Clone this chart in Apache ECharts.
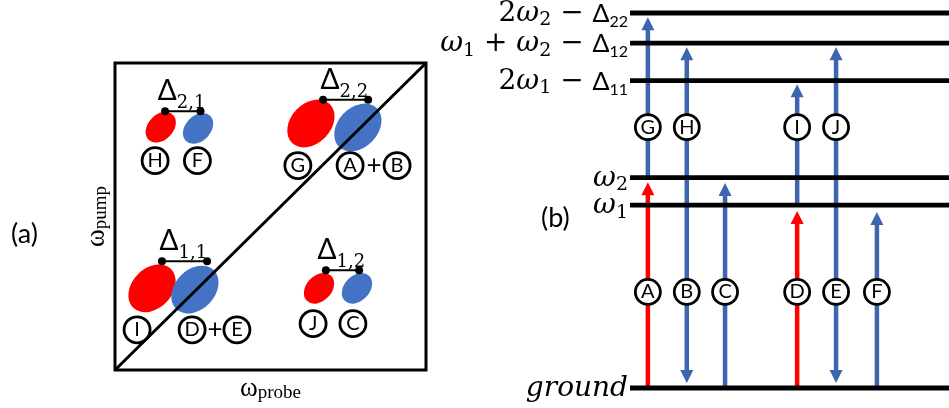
<!DOCTYPE html>
<html><head><meta charset="utf-8">
<script src="https://cdn.jsdelivr.net/npm/echarts@6/dist/echarts.min.js"></script>
<style>html,body{margin:0;padding:0;background:#fff}#c{width:949px;height:408px}</style>
</head><body><div id="c"></div>
<script>
// ---------- Panel (a): 2D spectrum (omega_probe vs omega_pump) ----------
const peakName  = ['H', 'F', 'G', 'A+B', 'I', 'D+E', 'J', 'C'];
const peakProbe = [1.47, 2.67, 6.30, 7.81, 1.19, 2.57, 6.56, 7.78];
const peakPump  = [7.91, 7.87, 8.03, 7.90, 2.66, 2.62, 2.66, 2.66];
const peakSign  = ['esa', 'gsb', 'esa', 'gsb', 'esa', 'gsb', 'esa', 'gsb'];
const peakMajor = [0.56, 0.56, 0.87, 0.87, 0.87, 0.87, 0.56, 0.56];
const peakMinor = [0.41, 0.41, 0.65, 0.65, 0.65, 0.65, 0.41, 0.41];

const splitSub   = ['2,1', '2,2', '1,1', '1,2'];
const splitFrom  = [1.61, 6.69, 1.51, 6.78];
const splitTo    = [2.75, 8.14, 2.96, 7.85];
const splitPump  = [8.43, 8.80, 3.54, 3.25];

const tagAName  = ['H', 'F', 'G', 'A', 'B', 'I', 'D', 'E', 'J', 'C'];
const tagAProbe = [1.29, 2.65, 5.88, 7.56, 9.07, 0.71, 2.48, 3.92, 6.37, 7.65];
const tagAPump  = [6.82, 6.82, 6.66, 6.66, 6.66, 1.31, 1.31, 1.31, 1.51, 1.51];
const plusProbe = [8.33, 3.22];
const plusPump  = [6.66, 1.31];

const diagProbe = [0, 10];
const diagPump  = [0, 10];
const axisNameProbe = ['ω', 'probe'];
const axisNamePump  = ['ω', 'pump'];

// ---------- Panel (b): energy level diagram ----------
const levelName   = ['ground', 'ω₁', 'ω₂', '2ω₁ − Δ₁₁', 'ω₁ + ω₂ − Δ₁₂', '2ω₂ − Δ₂₂'];
const levelEnergy = [0, 1.0, 1.15, 1.68, 1.885, 2.05];

const transName = ['A', 'B', 'C', 'D', 'E', 'F', 'G', 'H', 'I', 'J'];
const transPos  = [0.56, 1.78, 2.98, 5.24, 6.46, 7.74, 0.56, 1.78, 5.24, 6.46];
const transFrom = [0, 1.15, 0, 0, 1.0, 0, 1.15, 1.15, 1.0, 1.0];
const transTo   = [1.125, 0.027, 1.12, 0.967, 0.027, 0.962, 2.027, 1.863, 1.661, 1.863];
const transBeam = ['pump', 'probe', 'probe', 'pump', 'probe', 'probe', 'probe', 'probe', 'probe', 'probe'];
const transTagE = [0.525, 0.525, 0.525, 0.525, 0.525, 0.525, 1.426, 1.426, 1.426, 1.426];

const panelLabels = ['(a)', '(b)'];

// ---------- styling ----------
const RED = '#ff0000', BLUE = '#4472c4', BLUE_ARROW = '#3d66ae';
const TILT = 46 * Math.PI / 180;

const RICH_B = {
  n:  {fontFamily: 'DejaVu Serif', fontSize: 28, fill: '#000', lineHeight: 32},
  w:  {fontFamily: 'DejaVu Serif', fontStyle: 'italic', fontSize: 28, fill: '#000', lineHeight: 32},
  s:  {fontFamily: 'DejaVu Serif', fontSize: 19, fill: '#000', lineHeight: 20, verticalAlign: 'bottom'},
  d:  {fontFamily: 'Lato', fontSize: 25, fill: '#000', lineHeight: 32},
  ds: {fontFamily: 'Lato', fontSize: 16, fill: '#000', lineHeight: 28, verticalAlign: 'bottom'}
};
const SUBS = '₀₁₂₃₄₅₆₇₈₉';
function levelRich(str) {
  let out = '', buf = '', cls = null, last = 'n';
  const push = (c, k) => {
    if (k !== cls) { if (buf) out += '{' + cls + '|' + buf + '}'; buf = ''; cls = k; }
    buf += c; last = k;
  };
  for (const ch of Array.from(str)) {
    const si = SUBS.indexOf(ch);
    if (si >= 0) push(String(si), (last === 'd' || last === 'ds') ? 'ds' : 's');
    else if (ch === 'ω') push(ch, 'w');
    else if (ch === 'Δ') push(ch, 'd');
    else if (/[a-z]/.test(ch)) push(ch, 'w');
    else push(ch, 'n');
  }
  if (buf) out += '{' + cls + '|' + buf + '}';
  return out;
}

const axisRich = {
  w: {fontFamily: 'Liberation Serif', fontSize: 27, color: '#000', lineHeight: 28},
  s: {fontFamily: 'Liberation Serif', fontSize: 19, color: '#000', lineHeight: 14, verticalAlign: 'bottom'}
};

const chart = echarts.init(document.getElementById('c'), null, {renderer: 'canvas'});

const hiddenAxis = {
  type: 'value', min: 0, max: 10,
  axisLine: {show: false}, axisTick: {show: false}, axisLabel: {show: false}, splitLine: {show: false}
};

const option = {
  animation: false,
  backgroundColor: '#fff',
  grid: [
    {left: 115, top: 63, width: 311, height: 307, show: true, borderColor: '#000', borderWidth: 3,
     backgroundColor: 'transparent', outerBoundsMode: 'none'},
    {left: 630, top: 13, width: 319, height: 375, show: false, outerBoundsMode: 'none'}
  ],
  xAxis: [
    Object.assign({}, hiddenAxis, {gridIndex: 0,
      name: '{w|' + axisNameProbe[0] + '}{s|' + axisNameProbe[1] + '}',
      nameLocation: 'middle', nameGap: 5,
      nameTextStyle: {rich: axisRich}}),
    Object.assign({}, hiddenAxis, {gridIndex: 1, show: false})
  ],
  yAxis: [
    Object.assign({}, hiddenAxis, {gridIndex: 0,
      name: '{w|' + axisNamePump[0] + '}{s|' + axisNamePump[1] + '}',
      nameLocation: 'middle', nameGap: 4,
      nameTextStyle: {rich: axisRich}}),
    Object.assign({}, hiddenAxis, {gridIndex: 1, show: false, min: 0, max: 2.05})
  ],
  graphic: [
    {type: 'text', left: 11, top: 221, style: {text: panelLabels[0], fontFamily: 'Lato', fontSize: 27, fill: '#000'}},
    {type: 'text', left: 541, top: 205, style: {text: panelLabels[1], fontFamily: 'Lato', fontSize: 27, fill: '#000'}}
  ],
  series: [
    // ellipses (peaks)
    {
      type: 'custom', xAxisIndex: 0, yAxisIndex: 0, z: 2, silent: true,
      data: peakName.map((n, i) => ({name: n, value: [peakProbe[i], peakPump[i], peakMajor[i], peakMinor[i], peakSign[i] === 'esa' ? 0 : 1]})),
      renderItem: function (params, api) {
        const c = api.coord([api.value(0), api.value(1)]);
        const s = api.size([api.value(2), api.value(3)]);
        return {
          type: 'circle', x: c[0], y: c[1], scaleX: s[0] / 10, scaleY: s[1] / 10, rotation: TILT,
          shape: {cx: 0, cy: 0, r: 10},
          style: {fill: api.value(4) === 0 ? RED : BLUE}
        };
      }
    },
    // splitting bars with labels
    {
      type: 'custom', xAxisIndex: 0, yAxisIndex: 0, z: 6, silent: true,
      data: splitSub.map((t, i) => ({name: t, value: [splitFrom[i], splitTo[i], splitPump[i]]})),
      renderItem: function (params, api) {
        const a = api.coord([api.value(0), api.value(2)]);
        const b = api.coord([api.value(1), api.value(2)]);
        const cx = (a[0] + b[0]) / 2;
        const sub = splitSub[params.dataIndex];
        return {type: 'group', children: [
          {type: 'line', shape: {x1: a[0], y1: a[1], x2: b[0], y2: b[1]}, style: {stroke: '#000', lineWidth: 2}},
          {type: 'circle', shape: {cx: a[0], cy: a[1], r: 4}, style: {fill: '#000'}},
          {type: 'circle', shape: {cx: b[0], cy: b[1], r: 4}, style: {fill: '#000'}},
          {type: 'text', x: cx - 6, y: a[1] - 6, style: {text: 'Δ', fontFamily: 'Lato', fontSize: 28, fill: '#000', align: 'right', verticalAlign: 'bottom'}},
          {type: 'text', x: cx - 6, y: a[1] + 1, style: {text: sub, fontFamily: 'DejaVu Serif', fontSize: 18, fill: '#000', align: 'left', verticalAlign: 'bottom'}}
        ]};
      }
    },
    // circle tags in (a)
    {
      type: 'scatter', xAxisIndex: 0, yAxisIndex: 0, z: 3, silent: true,
      symbol: 'circle', symbolSize: 26,
      itemStyle: {color: '#fff', borderColor: '#000', borderWidth: 2.8, opacity: 1},
      label: {show: true, position: 'inside', formatter: '{b}', fontFamily: 'Lato', fontSize: 20, color: '#000'},
      data: tagAName.map((n, i) => ({name: n, value: [tagAProbe[i], tagAPump[i]]}))
    },
    // plus signs
    {
      type: 'custom', xAxisIndex: 0, yAxisIndex: 0, z: 3, silent: true,
      data: plusProbe.map((x, i) => [x, plusPump[i]]),
      renderItem: function (params, api) {
        const c = api.coord([api.value(0), api.value(1)]);
        return {type: 'text', x: c[0], y: c[1], style: {text: '+', fontFamily: 'Lato', fontSize: 26, fill: '#000', align: 'center', verticalAlign: 'middle'}};
      }
    },
    // diagonal
    {
      type: 'line', xAxisIndex: 0, yAxisIndex: 0, z: 5, silent: true, symbol: 'none',
      lineStyle: {color: '#000', width: 3},
      data: diagProbe.map((x, i) => [x, diagPump[i]])
    },
    // ---- panel (b) ----
    // transitions (arrows)
    {
      type: 'custom', xAxisIndex: 1, yAxisIndex: 1, z: 2, silent: true,
      data: transName.map((n, i) => ({name: n, value: [transPos[i], transFrom[i], transTo[i], transBeam[i] === 'pump' ? 0 : 1]})),
      renderItem: function (params, api) {
        const x = api.value(0);
        const p0 = api.coord([x, api.value(1)]);
        const p1 = api.coord([x, api.value(2)]);
        const dir = p1[1] > p0[1] ? 1 : -1;
        const headL = 13, headW = 6.5;
        const color = api.value(3) === 0 ? RED : BLUE_ARROW;
        return {type: 'group', children: [
          {type: 'line', shape: {x1: p0[0], y1: p0[1], x2: p1[0], y2: p1[1] - dir * headL * 0.7}, style: {stroke: color, lineWidth: 4.5}},
          {type: 'polygon', shape: {points: [[p1[0], p1[1]], [p1[0] - headW, p1[1] - dir * headL], [p1[0] + headW, p1[1] - dir * headL]]}, style: {fill: color}}
        ]};
      }
    },
    // energy levels + labels
    {
      type: 'custom', xAxisIndex: 1, yAxisIndex: 1, z: 3, silent: true,
      data: levelEnergy.map((e, i) => ({name: levelName[i], value: [0, e, 10]})),
      renderItem: function (params, api) {
        const a = api.coord([api.value(0), api.value(1)]);
        const b = api.coord([api.value(2), api.value(1)]);
        return {type: 'group', children: [
          {type: 'line', shape: {x1: a[0], y1: a[1], x2: b[0], y2: b[1]}, style: {stroke: '#000', lineWidth: 4.8}},
          {type: 'text', x: a[0] - 2, y: a[1] + 1, style: {text: levelRich(levelName[params.dataIndex]), rich: RICH_B, align: 'right', verticalAlign: 'middle', fill: '#000'}}
        ]};
      }
    },
    // circle tags in (b)
    {
      type: 'scatter', xAxisIndex: 1, yAxisIndex: 1, z: 4, silent: true,
      symbol: 'circle', symbolSize: 25,
      itemStyle: {color: '#fff', borderColor: '#000', borderWidth: 2.8, opacity: 1},
      label: {show: true, position: 'inside', formatter: '{b}', fontFamily: 'Lato', fontSize: 20, color: '#000'},
      data: transName.map((n, i) => ({name: n, value: [transPos[i], transTagE[i]]}))
    }
  ]
};
chart.setOption(option);
</script>
</body></html>
